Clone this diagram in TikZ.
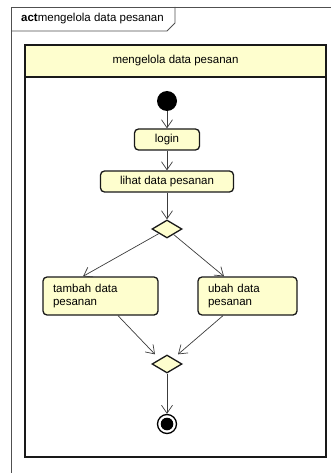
\documentclass[tikz,border=0pt]{standalone}
\usepackage{fontspec}
\setmainfont{Liberation Sans}
\usetikzlibrary{arrows.meta,shapes.geometric}
\definecolor{actfill}{HTML}{FEFECE}
\definecolor{edgegray}{HTML}{3C3C3C}
\definecolor{framegray}{HTML}{505050}
\tikzset{
  action/.style={draw=black!90, line width=1.3pt, fill=actfill, rounded corners=4pt,
    inner sep=0pt, minimum height=21pt},
  multiline/.style={action, align=left, inner xsep=10pt, minimum height=38pt},
  decision/.style={diamond, draw=black!90, line width=1.3pt, fill=actfill,
    inner sep=0pt, minimum width=30pt, minimum height=18pt},
  flow/.style={draw=edgegray, line width=0.7pt,
    -{Straight Barb[length=8pt,width=11pt,line width=0.7pt]}},
  lane/.style={draw=black!90, line width=1.6pt},
}
\begin{document}
\begin{tikzpicture}[x=1pt,y=-1pt,font=\fontsize{11.5}{12.5}\selectfont]
\useasboundingbox (0,0) rectangle (331,473);

% diagram frame with its name tab
\draw[framegray, line width=0.9pt] (11.5,473) -- (11.5,7) -- (331,7);
\draw[framegray, line width=0.9pt] (11.5,31) -- (167,31) -- (175,23) -- (175,7);
\node[anchor=west, inner sep=0pt] (frametitle) at (21,19) {\textbf{act}mengelola data pesanan};

% partition
\draw[lane, fill=actfill] (25,45) rectangle (326,77);
\draw[lane] (25,77) -- (25,457) -- (326,457) -- (326,77);
\node (lanetitle) at (175.5,61) {mengelola data pesanan};

% activity nodes
\node[circle, fill=black, minimum size=20pt, inner sep=0pt] (start) at (167,101) {};
\node[action, minimum width=65pt] (login) at (167,139.5) {login};
\node[action, minimum width=133pt] (lihat) at (167,181.5) {lihat data pesanan};
\node[decision] (d1) at (167,229) {};
\node[multiline, text width=95pt] (tambah) at (100.5,296) {tambah data\\pesanan};
\node[multiline, text width=79pt] (ubah) at (247.5,296) {ubah data\\pesanan};
\node[decision] (d2) at (167,364) {};
\node[circle, draw=black, line width=1.3pt, fill=white, minimum size=19pt, inner sep=0pt] (end) at (167,424) {};
\fill[black] (end.center) circle (6.3pt);

% control flows
\draw[flow] (start) -- (login);
\draw[flow] (login) -- (lihat);
\draw[flow] (lihat) -- (d1);
\draw[flow] (d1) -- ([xshift=-17.5pt]tambah.north);
\draw[flow] (d1) -- ([xshift=-23.5pt]ubah.north);
\draw[flow] ([xshift=17.5pt]tambah.south) -- ([xshift=-12pt]d2.north);
\draw[flow] ([xshift=-24.5pt]ubah.south) -- ([xshift=11pt]d2.north);
\draw[flow] (d2) -- (end);
\end{tikzpicture}
\end{document}
